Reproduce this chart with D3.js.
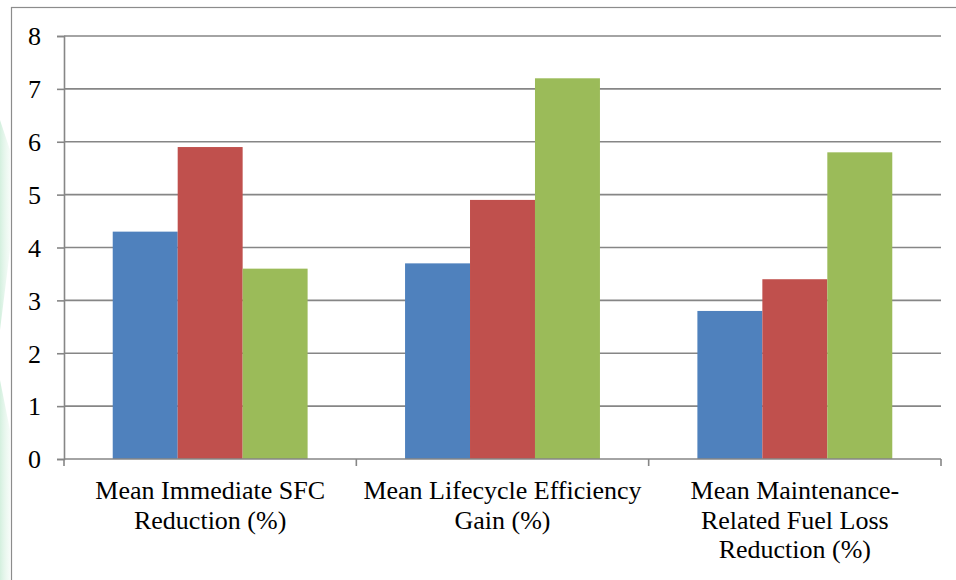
<!DOCTYPE html>
<html>
<head>
<meta charset="utf-8">
<script src="https://cdn.jsdelivr.net/npm/d3@7"></script>
<style>
  html, body { margin: 0; padding: 0; background: #ffffff; }
  svg { display: block; }
  .lbl { font-family: "Liberation Serif", "Times New Roman", serif; font-size: 26px; fill: #000; }
</style>
</head>
<body>
<svg id="chart" width="956" height="580"></svg>
<script>
// Category labels (line-broken as drawn under the axis)
const categories = [
  ["Mean Immediate SFC", "Reduction (%)"],
  ["Mean Lifecycle Efficiency", "Gain (%)"],
  ["Mean Maintenance-", "Related Fuel Loss", "Reduction (%)"]
];
const seriesNames = ["Series 1", "Series 2", "Series 3"];
const series1 = [4.3, 3.7, 2.8];
const series2 = [5.9, 4.9, 3.4];
const series3 = [3.6, 7.2, 5.8];
const yTicks = [0, 1, 2, 3, 4, 5, 6, 7, 8];
const colors = ["#4f81bd", "#c0504d", "#9bbb59"];

const svg = d3.select("#chart");
const W = 956, H = 580;
const plot = { left: 64, right: 941, top: 36, bottom: 459 };
const axisGray = "#868686";

// faint decorative band at the far left edge
const deco = svg.append("defs").append("linearGradient")
  .attr("id", "deco").attr("x1", 0).attr("x2", 1).attr("y1", 0).attr("y2", 0);
deco.append("stop").attr("offset", "0%").attr("stop-color", "#cfeedb").attr("stop-opacity", 0.9);
deco.append("stop").attr("offset", "100%").attr("stop-color", "#e9f7ee").attr("stop-opacity", 0.4);
svg.append("path")
  .attr("d", "M0,120 L10,150 L10,250 L0,330 Z M0,380 L10,430 L10,580 L0,580 Z")
  .attr("fill", "url(#deco)");

// outer chart frame
svg.append("rect")
  .attr("x", 11.5).attr("y", 7.5)
  .attr("width", W + 10).attr("height", H + 10)
  .attr("fill", "none").attr("stroke", "#8c8c8c").attr("stroke-width", 1.2);

const x0 = d3.scaleBand()
  .domain(d3.range(categories.length))
  .range([plot.left, plot.right])
  .paddingInner(0).paddingOuter(0);

// bars take 3/(3+1.5) of each category band
const groupW = x0.bandwidth() * 3 / 4.5;
const x1 = d3.scaleBand()
  .domain(d3.range(seriesNames.length))
  .range([0, groupW])
  .padding(0);

const y = d3.scaleLinear().domain([0, 8]).range([plot.bottom, plot.top]);

// horizontal gridlines
svg.append("g")
  .selectAll("line")
  .data(yTicks.filter(d => d > 0))
  .join("line")
  .attr("x1", plot.left).attr("x2", plot.right)
  .attr("y1", d => y(d)).attr("y2", d => y(d))
  .attr("stroke", axisGray).attr("stroke-width", 1.6);

// bars
const allSeries = [series1, series2, series3];
const g = svg.append("g");
categories.forEach((c, i) => {
  const gx = x0(i) + (x0.bandwidth() - groupW) / 2;
  allSeries.forEach((s, k) => {
    g.append("rect")
      .attr("x", gx + x1(k))
      .attr("y", y(s[i]))
      .attr("width", x1.bandwidth())
      .attr("height", y(0) - y(s[i]))
      .attr("fill", colors[k]);
  });
});

// y axis
const yAxis = d3.axisLeft(y).tickValues(yTicks).tickSize(7).tickPadding(16).tickFormat(d3.format("d"));
const ya = svg.append("g").attr("transform", `translate(${plot.left},0)`).call(yAxis);
ya.attr("font-family", null).attr("font-size", null);
ya.select(".domain").attr("stroke", axisGray).attr("stroke-width", 1.6);
ya.selectAll(".tick line").attr("stroke", axisGray).attr("stroke-width", 1.6);
ya.selectAll(".tick text").attr("class", "lbl").attr("dy", "0.34em");

// x axis with ticks at band boundaries
const xa = svg.append("g");
xa.append("line")
  .attr("x1", plot.left).attr("x2", plot.right)
  .attr("y1", y(0)).attr("y2", y(0))
  .attr("stroke", axisGray).attr("stroke-width", 1.6);
const bounds = d3.range(categories.length + 1).map(i => plot.left + i * x0.bandwidth());
xa.selectAll("line.tk")
  .data(bounds)
  .join("line")
  .attr("class", "tk")
  .attr("x1", d => d).attr("x2", d => d)
  .attr("y1", y(0)).attr("y2", y(0) + 7)
  .attr("stroke", axisGray).attr("stroke-width", 1.6);

// category labels
categories.forEach((lines, i) => {
  const t = svg.append("text").attr("class", "lbl").attr("text-anchor", "middle");
  lines.forEach((ln, j) => {
    t.append("tspan")
      .attr("x", x0(i) + x0.bandwidth() / 2)
      .attr("y", 499 + j * 29.5)
      .text(ln);
  });
});
</script>
</body>
</html>
